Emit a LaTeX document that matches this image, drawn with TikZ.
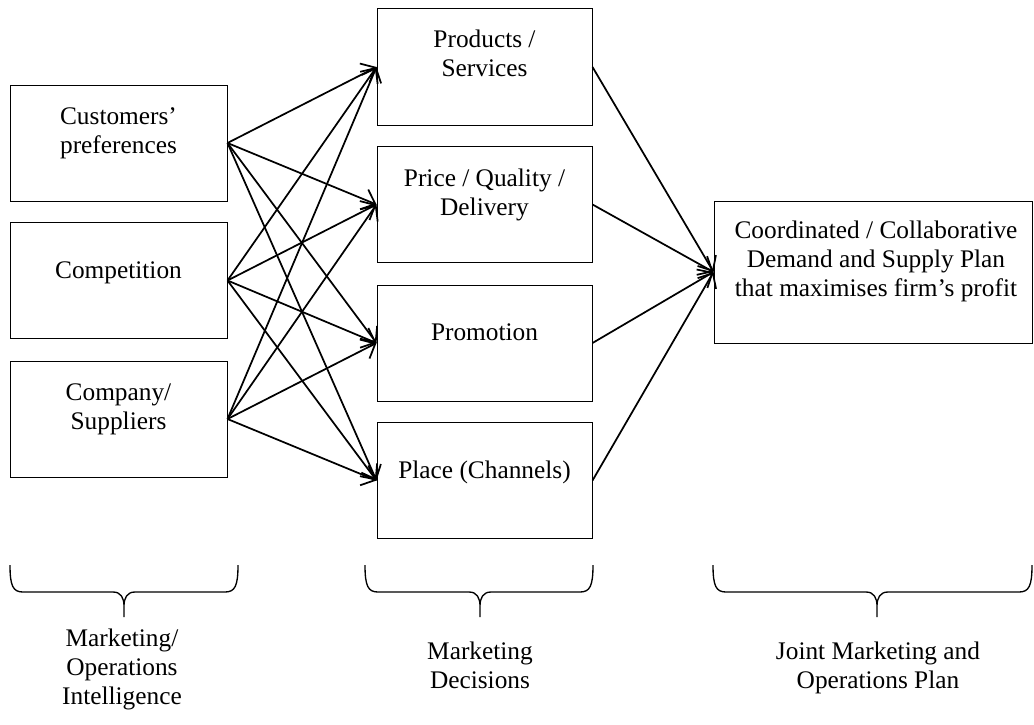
\documentclass[tikz,border=0pt]{standalone}
\usepackage{fontspec}
\setmainfont{Liberation Serif}
\usetikzlibrary{arrows.meta}
\newcommand\mybrace[3]{\draw[bracestyle] (#1,565) .. controls (#1,586) and ({#1+3},592) .. ({#1+13},592) -- ({#2-11},592) .. controls ({#2-3},592) and (#2,598) .. (#2,606) -- (#2,617) (#2,606) .. controls (#2,598) and ({#2+3},592) .. ({#2+11},592) -- ({#3-13},592) .. controls ({#3-3},592) and (#3,586) .. (#3,565);}
\begin{document}
\begin{tikzpicture}[x=0.75pt,y=-0.75pt,
  boxstyle/.style={draw,line width=0.75pt,inner sep=0pt,minimum height=87pt},
  leftbox/.style={boxstyle,minimum width=162.75pt},
  midbox/.style={boxstyle,minimum width=161.25pt},
  txt/.style={align=center,inner sep=0pt,font=\fontsize{19}{21.75}\selectfont},
  arr/.style={line width=1.3pt,-{Straight Barb[length=9pt,width=16pt,line width=1.3pt]}},
  bracestyle/.style={line width=1pt}]
\fill[white] (0,0) rectangle (1034,724);
\path[use as bounding box] (0,0) rectangle (1034,724);

% left column
\node[leftbox] (L1) at (118.5,143) {};
\node[leftbox] (L2) at (118.5,280.5) {};
\node[leftbox] (L3) at (118.5,419) {};
\node[txt] (t1) at (118.5,132.7) {Customers’\strut\\preferences\strut};
\node[txt] (t2) at (118.5,272.2) {Competition\strut};
\node[txt] (t3) at (118.5,408.7) {Company/\strut\\Suppliers\strut};

% middle column
\node[midbox] (M1) at (484.5,67) {};
\node[midbox] (M2) at (484.5,204.5) {};
\node[midbox] (M3) at (484.5,343) {};
\node[midbox] (M4) at (484.5,480.5) {};
\node[txt] (u1) at (484.5,56.7) {Products /\strut\\Services\strut};
\node[txt] (u2) at (484.5,194.7) {Price / Quality /\strut\\Delivery\strut};
\node[txt] (u3) at (484.5,334.2) {Promotion\strut};
\node[txt] (u4) at (484.5,472.2) {Place (Channels)\strut};

% right box
\node[boxstyle,minimum width=238.5pt,minimum height=106.5pt] (R) at (873,272) {};
\node[txt] (v1) at (876,261.2) {Coordinated / Collaborative\strut\\Demand and Supply Plan\strut\\that maximises firm’s profit\strut};

% connectors
\foreach \s in {L1,L2,L3}{
  \foreach \t in {M1,M2,M3,M4}{
    \draw[arr] (\s.east) -- (\t.west);
  }
}
\foreach \s in {M1,M2,M3,M4}{
  \draw[arr] (\s.east) -- (R.west);
}

% braces
\mybrace{10}{124}{238}
\mybrace{365}{480}{593}
\mybrace{713}{877}{1032}

% bottom labels
\node[txt] (b1) at (122,669.2) {Marketing/\strut\\Operations\strut\\Intelligence\strut};
\node[txt] (b2) at (480,668.2) {Marketing\strut\\Decisions\strut};
\node[txt] (b3) at (878,668.2) {Joint Marketing and\strut\\Operations Plan\strut};
\end{tikzpicture}
\end{document}
